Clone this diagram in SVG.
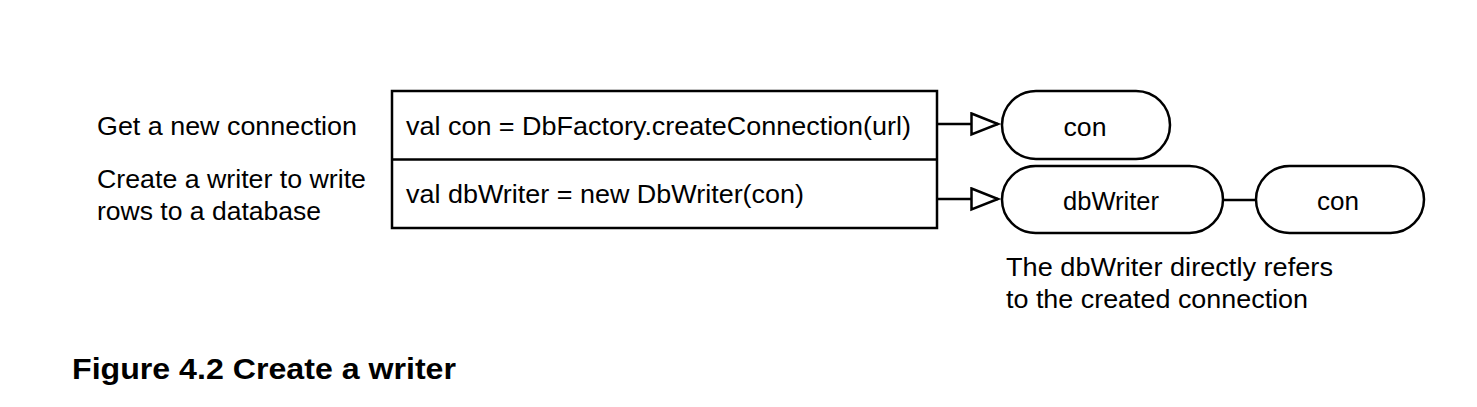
<svg xmlns="http://www.w3.org/2000/svg" width="1477" height="407" viewBox="0 0 1477 407">
<style>
text{font-family:"Liberation Sans",Arial,Helvetica,sans-serif;font-size:25px;fill:#000}
.c{text-anchor:middle}
.cap{font-weight:bold;font-size:29px}
.s{fill:#fff;stroke:#000;stroke-width:2.5}
.ln{stroke:#000;stroke-width:2.5;fill:none}
</style>
<defs>
<marker id="tri" markerUnits="userSpaceOnUse" markerWidth="32" markerHeight="26" refX="28" refY="12" orient="auto">
<path d="M1.5,1.5 L28,12 L1.5,22.5 Z" fill="#fff" stroke="#000" stroke-width="2.5" stroke-linejoin="miter"/>
</marker>
</defs>
<rect width="1477" height="407" fill="#fff"/>
<g id="labels">
<text x="97" y="135" textLength="260" lengthAdjust="spacingAndGlyphs">Get a new connection</text>
<text x="97" y="188" textLength="269" lengthAdjust="spacingAndGlyphs">Create a writer to write</text>
<text x="97" y="220" textLength="224" lengthAdjust="spacingAndGlyphs">rows to a database</text>
</g>
<g id="code">
<rect class="s" x="392" y="91" width="545" height="137"/>
<line class="ln" x1="392" y1="159.5" x2="937" y2="159.5"/>
<text x="406" y="135" textLength="505" lengthAdjust="spacingAndGlyphs">val con = DbFactory.createConnection(url)</text>
<text x="406" y="203" textLength="398" lengthAdjust="spacingAndGlyphs">val dbWriter = new DbWriter(con)</text>
</g>
<g id="connectors">
<line class="ln" x1="937" y1="124" x2="998" y2="124" marker-end="url(#tri)"/>
<line class="ln" x1="937" y1="199" x2="998" y2="199" marker-end="url(#tri)"/>
<line class="ln" x1="1223" y1="200" x2="1256" y2="200"/>
</g>
<g id="con1">
<rect class="s" x="1002" y="91" width="168" height="68" rx="34"/>
<text class="c" x="1085" y="136" textLength="43" lengthAdjust="spacingAndGlyphs">con</text>
</g>
<g id="dbWriter">
<rect class="s" x="1002" y="166" width="221" height="67" rx="33.5"/>
<text class="c" x="1111" y="210" textLength="96" lengthAdjust="spacingAndGlyphs">dbWriter</text>
</g>
<g id="con2">
<rect class="s" x="1256" y="166" width="168" height="67" rx="33.5"/>
<text class="c" x="1338" y="210" textLength="42" lengthAdjust="spacingAndGlyphs">con</text>
</g>
<g id="note">
<text x="1006" y="276" textLength="327" lengthAdjust="spacingAndGlyphs">The dbWriter directly refers</text>
<text x="1006" y="308" textLength="302" lengthAdjust="spacingAndGlyphs">to the created connection</text>
</g>
<text class="cap" x="72" y="379" textLength="384" lengthAdjust="spacingAndGlyphs">Figure 4.2 Create a writer</text>
</svg>
